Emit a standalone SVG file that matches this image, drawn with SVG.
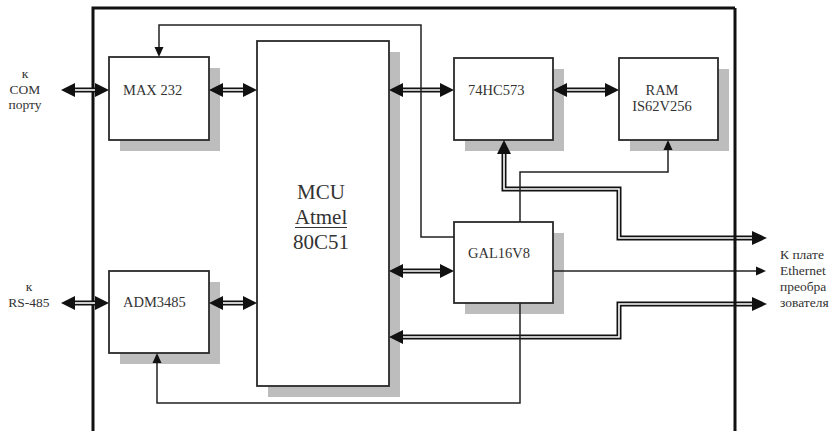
<svg xmlns="http://www.w3.org/2000/svg" width="832" height="431" viewBox="0 0 832 431" font-family="'Liberation Serif', 'Times New Roman', serif">
<style>
text{font-family:'Liberation Serif','Times New Roman',serif}
.frame{fill:none;stroke:#111;stroke-width:3}
.shadow{fill:#bdbdbd}
.box{fill:#fff;stroke:#2a2a2a;stroke-width:1.8}
.lbl{font-size:14.5px;fill:#333}
.mcu{font-size:21px;fill:#333;text-anchor:middle}
.side{font-size:13.5px;fill:#333}
.dbl{fill:none;stroke:#111;stroke-width:5;stroke-linejoin:miter}
.dbli{fill:none;stroke:#fff;stroke-width:1.6;stroke-linejoin:miter}
.wire{fill:none;stroke:#222;stroke-width:1.5}
.head{fill:#111}
</style>
<rect width="832" height="431" fill="#fff"/>
<g id="frame-left">
<polyline class="frame" points="93,431 93,8 735,8"/>
</g>
<g id="max232">
<rect class="shadow" x="120" y="68" width="100" height="83"/>
<rect class="box" x="109" y="57" width="100" height="83"/>
<text class="lbl" x="123" y="95">MAX 232</text>
</g>
<g id="mcu">
<rect class="shadow" x="268" y="52" width="132" height="345"/>
<rect class="box" x="257" y="41" width="132" height="345"/>
<text class="mcu" x="321" y="199">MCU</text>
<text class="mcu" x="321" y="224">Atmel</text>
<line x1="295" y1="227.5" x2="347" y2="227.5" stroke="#333" stroke-width="1.2"/>
<text class="mcu" x="321" y="249">80C51</text>
</g>
<g id="hc573">
<rect class="shadow" x="465" y="69" width="99" height="82"/>
<rect class="box" x="454" y="58" width="99" height="82"/>
<text class="lbl" x="468" y="95">74HC573</text>
</g>
<g id="ram">
<rect class="shadow" x="630" y="69" width="99" height="82"/>
<rect class="box" x="619" y="58" width="99" height="82"/>
<text class="lbl" x="662" y="95" text-anchor="middle">RAM</text>
<text class="lbl" x="662" y="111" text-anchor="middle">IS62V256</text>
</g>
<g id="gal">
<rect class="shadow" x="465" y="233" width="99" height="81"/>
<rect class="box" x="454" y="222" width="99" height="81"/>
<text class="lbl" x="468" y="258">GAL16V8</text>
</g>
<g id="adm3485">
<rect class="shadow" x="120" y="282" width="100" height="82"/>
<rect class="box" x="109" y="271" width="100" height="82"/>
<text class="lbl" x="123" y="307">ADM3485</text>
</g>
<g id="com-label">
<text class="side" x="25" y="78" text-anchor="middle">к</text>
<text class="side" x="25" y="94" text-anchor="middle">COM</text>
<text class="side" x="25" y="109" text-anchor="middle">порту</text>
</g>
<g id="rs485-label">
<text class="side" x="29" y="291" text-anchor="middle">к</text>
<text class="side" x="29" y="307" text-anchor="middle">RS-485</text>
</g>
<g id="ethernet-label">
<text class="side" x="780" y="259">К плате</text>
<text class="side" x="780" y="275">Ethernet</text>
<text class="side" x="780" y="291">преобра</text>
<text class="side" x="780" y="307">зователя</text>
</g>
<g id="connectors">
<path class="dbl" d="M75,90H95"/><path class="dbli" d="M75,90H95"/>
<polygon class="head" points="61,90 75,83 75,97"/><polygon class="head" points="109,90 95,83 95,97"/>
<path class="dbl" d="M223,90H243"/><path class="dbli" d="M223,90H243"/>
<polygon class="head" points="209,90 223,83 223,97"/><polygon class="head" points="257,90 243,83 243,97"/>
<path class="dbl" d="M403,90H440"/><path class="dbli" d="M403,90H440"/>
<polygon class="head" points="389,90 403,83 403,97"/><polygon class="head" points="454,90 440,83 440,97"/>
<path class="dbl" d="M567,90H605"/><path class="dbli" d="M567,90H605"/>
<polygon class="head" points="553,90 567,83 567,97"/><polygon class="head" points="619,90 605,83 605,97"/>
<path class="dbl" d="M75,303H95"/><path class="dbli" d="M75,303H95"/>
<polygon class="head" points="61,303 75,296 75,310"/><polygon class="head" points="109,303 95,296 95,310"/>
<path class="dbl" d="M223,303H243"/><path class="dbli" d="M223,303H243"/>
<polygon class="head" points="209,303 223,296 223,310"/><polygon class="head" points="257,303 243,296 243,310"/>
<path class="dbl" d="M403,271H440"/><path class="dbli" d="M403,271H440"/>
<polygon class="head" points="389,271 403,264 403,278"/><polygon class="head" points="454,271 440,264 440,278"/>
<path class="dbl" d="M504,154V189H619V238H752"/><path class="dbli" d="M504,154V189H619V238H752"/>
<polygon class="head" points="504,140 497,154 511,154"/><polygon class="head" points="767,238 752,231 752,245"/>
<path class="dbl" d="M403,337H619V304H752"/><path class="dbli" d="M403,337H619V304H752"/>
<polygon class="head" points="389,337 403,330 403,344"/><polygon class="head" points="767,304 752,297 752,311"/>
<path class="wire" d="M553,271H757"/>
<polygon class="head" points="766,271 756,266.5 756,275.5"/>
<path class="wire" d="M454,237H421V25H159V47"/>
<polygon class="head" points="159,57 154.5,47 163.5,47"/>
<path class="wire" d="M520,222V172H668V150"/>
<polygon class="head" points="668,140 663.5,150 672.5,150"/>
<path class="wire" d="M520,303V403H157V363"/>
<polygon class="head" points="157,353 152.5,363 161.5,363"/>
</g>
<g id="frame-right">
<line class="frame" x1="735" y1="8" x2="735" y2="431"/>
</g>
</svg>
